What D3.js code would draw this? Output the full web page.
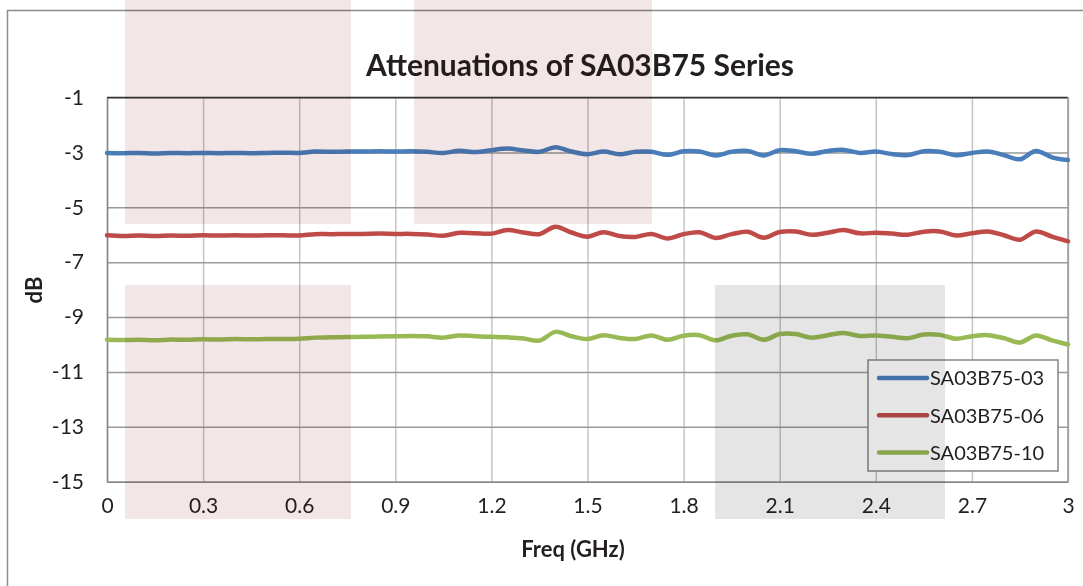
<!DOCTYPE html>
<html>
<head>
<meta charset="utf-8">
<script src="https://cdn.jsdelivr.net/npm/d3@7"></script>
<style>
  body { margin: 0; background: #fff; }
  svg { display: block; font-family: Lato, "Noto Sans", sans-serif; }
  .tick text { fill: #231f20; }
</style>
</head>
<body>
<div id="canvas"></div>
<script>
// frequency grid (GHz)
const freq = [0, 0.05, 0.1, 0.15, 0.2, 0.25, 0.3, 0.35, 0.4, 0.45, 0.5, 0.55, 0.6, 0.65, 0.7, 0.75,
  0.8, 0.85, 0.9, 0.95, 1.0, 1.05, 1.1, 1.15, 1.2, 1.25, 1.3, 1.35, 1.4, 1.45, 1.5, 1.55,
  1.6, 1.65, 1.7, 1.75, 1.8, 1.85, 1.9, 1.95, 2.0, 2.05, 2.1, 2.15, 2.2, 2.25, 2.3, 2.35,
  2.4, 2.45, 2.5, 2.55, 2.6, 2.65, 2.7, 2.75, 2.8, 2.85, 2.9, 2.95, 3.0];

const sa03 = [-3.02, -3.03, -3.02, -3.04, -3.02, -3.03, -3.02, -3.03, -3.02, -3.03, -3.02, -3.01, -3.02,
  -2.97, -2.98, -2.97, -2.97, -2.96, -2.97, -2.96, -2.98, -3.02, -2.94, -2.99, -2.92, -2.86, -2.93,
  -2.98, -2.81, -2.97, -3.07, -2.97, -3.07, -2.98, -2.98, -3.09, -2.96, -2.97, -3.11, -2.98, -2.95,
  -3.11, -2.92, -2.96, -3.05, -2.95, -2.91, -3.02, -2.97, -3.06, -3.10, -2.96, -2.98, -3.10, -3.02,
  -2.97, -3.10, -3.25, -2.95, -3.18, -3.28];

const sa06 = [-6.02, -6.05, -6.03, -6.05, -6.03, -6.04, -6.02, -6.03, -6.02, -6.03, -6.02, -6.02, -6.03,
  -5.98, -5.98, -5.97, -5.97, -5.96, -5.97, -5.97, -5.99, -6.04, -5.93, -5.95, -5.96, -5.83, -5.92,
  -5.98, -5.71, -5.92, -6.07, -5.91, -6.05, -6.08, -5.97, -6.14, -5.98, -5.91, -6.12, -5.98, -5.89,
  -6.11, -5.90, -5.88, -6.00, -5.93, -5.83, -5.95, -5.93, -5.96, -6.00, -5.89, -5.88, -6.03, -5.95,
  -5.88, -6.02, -6.18, -5.88, -6.07, -6.24];

const sa10 = [-9.83, -9.84, -9.83, -9.85, -9.82, -9.83, -9.81, -9.82, -9.80, -9.81, -9.80, -9.80, -9.79,
  -9.75, -9.74, -9.73, -9.72, -9.71, -9.70, -9.69, -9.70, -9.75, -9.67, -9.70, -9.72, -9.74, -9.78,
  -9.86, -9.54, -9.70, -9.80, -9.66, -9.76, -9.80, -9.67, -9.83, -9.68, -9.66, -9.85, -9.68, -9.63,
  -9.83, -9.62, -9.62, -9.75, -9.66, -9.58, -9.69, -9.67, -9.72, -9.77, -9.64, -9.65, -9.79, -9.70,
  -9.66, -9.77, -9.93, -9.67, -9.85, -10.00];

const seriesNames = ["SA03B75-03", "SA03B75-06", "SA03B75-10"];
const seriesColors = ["#4a7ebb", "#be4b48", "#98b954"];
const xTicks = [0, 0.3, 0.6, 0.9, 1.2, 1.5, 1.8, 2.1, 2.4, 2.7, 3];
const yTicks = [-1, -3, -5, -7, -9, -11, -13, -15];

const width = 1083;
const height = 586;
const margin = { top: 97.5, left: 107, bottom: 104.3, right: 15 };
const iwidth = width - margin.left - margin.right;
const iheight = height - margin.top - margin.bottom;

const svg = d3.select("#canvas").append("svg")
  .attr("width", width)
  .attr("height", height);

// chart frame
svg.append("rect")
  .attr("x", 7.5).attr("y", 10.5)
  .attr("width", 1100).attr("height", 600)
  .attr("fill", "#fff")
  .attr("stroke", "#8c8c8c").attr("stroke-width", 1.5);

const g = svg.append("g")
  .attr("transform", `translate(${margin.left},${margin.top})`);

const x = d3.scaleLinear().domain([0, 3]).range([0, iwidth]);
const y = d3.scaleLinear().domain([-15, -1]).range([iheight, 0]);

// vertical grid
g.append("g")
  .attr("transform", `translate(0,${iheight})`)
  .call(d3.axisBottom(x).tickValues(xTicks).tickSize(-iheight).tickFormat(""))
  .call(a => a.select(".domain").remove())
  .call(a => a.selectAll("line").attr("stroke", "#c4c4c4").attr("stroke-width", 1.5));

// horizontal grid
g.append("g")
  .call(d3.axisLeft(y).tickValues(yTicks).tickSize(-iwidth).tickFormat(""))
  .call(a => a.select(".domain").remove())
  .call(a => a.selectAll("line").attr("stroke", "#999").attr("stroke-width", 1.5));

// plot borders
g.append("line").attr("x1", 0).attr("x2", iwidth).attr("y1", 0).attr("y2", 0)
  .attr("stroke", "#333").attr("stroke-width", 1.5);
g.append("line").attr("x1", iwidth).attr("x2", iwidth).attr("y1", 0).attr("y2", iheight)
  .attr("stroke", "#999").attr("stroke-width", 1.5);

// axes with labels
g.append("g")
  .attr("transform", `translate(0,${iheight})`)
  .call(d3.axisBottom(x).tickValues(xTicks).tickSize(0).tickPadding(16).tickFormat(d => String(d)))
  .call(a => a.select(".domain").attr("stroke", "#868686").attr("stroke-width", 1.5))
  .call(a => a.selectAll("text").attr("font-size", 21).attr("font-family", "Lato"));

g.append("g")
  .call(d3.axisLeft(y).tickValues(yTicks).tickSize(0).tickPadding(23).tickFormat(d => String(d)))
  .call(a => a.select(".domain").attr("stroke", "#868686").attr("stroke-width", 1.5))
  .call(a => a.selectAll("text").attr("font-size", 21).attr("font-family", "Lato"));

// series
const series = [sa03, sa06, sa10];
const line = d3.line()
  .x((d, i) => x(freq[i]))
  .y(d => y(d))
  .curve(d3.curveCatmullRom);

g.selectAll(".series")
  .data(series)
  .enter()
  .append("path")
  .attr("class", "series")
  .attr("d", d => line(d))
  .attr("fill", "none")
  .attr("stroke", (d, i) => seriesColors[i])
  .attr("stroke-width", 4.5)
  .attr("stroke-linejoin", "round")
  .attr("stroke-linecap", "round");

// title
svg.append("text")
  .attr("x", 580).attr("y", 76)
  .attr("text-anchor", "middle")
  .attr("font-size", 30).attr("font-weight", "bold")
  .attr("fill", "#231f20")
  .text("Attenuations of SA03B75 Series");

// axis titles
svg.append("text")
  .attr("x", 573).attr("y", 557)
  .attr("text-anchor", "middle")
  .attr("font-size", 22).attr("font-weight", "bold")
  .attr("fill", "#231f20")
  .text("Freq (GHz)");

svg.append("text")
  .attr("transform", "translate(42,290) rotate(-90)")
  .attr("text-anchor", "middle")
  .attr("font-size", 22).attr("font-weight", "bold")
  .attr("fill", "#231f20")
  .text("dB");

// legend
const legend = svg.append("g").attr("transform", "translate(868,360)");
legend.append("rect")
  .attr("width", 190).attr("height", 111)
  .attr("fill", "#fff")
  .attr("stroke", "#868686").attr("stroke-width", 1.5);

const items = legend.selectAll(".item")
  .data(seriesNames)
  .enter()
  .append("g")
  .attr("transform", (d, i) => `translate(0,${18 + i * 37.3})`);

items.append("line")
  .attr("x1", 11).attr("x2", 59)
  .attr("stroke", (d, i) => seriesColors[i])
  .attr("stroke-width", 4.5)
  .attr("stroke-linecap", "round");

items.append("text")
  .attr("x", 62).attr("dy", "0.36em")
  .attr("font-size", 20)
  .attr("fill", "#231f20")
  .text(d => d);

// shaded overlay regions
const shades = [
  { x0: 125, x1: 351, y0: 0, y1: 224, c: "#f3e6e7" },
  { x0: 414, x1: 652, y0: 0, y1: 224, c: "#f3e6e7" },
  { x0: 125, x1: 351, y0: 285, y1: 519, c: "#f3e6e7" },
  { x0: 715, x1: 945, y0: 285, y1: 519, c: "#e5e5e5" }
];
svg.selectAll(".shade")
  .data(shades)
  .enter()
  .append("rect")
  .attr("class", "shade")
  .attr("x", d => d.x0).attr("y", d => d.y0)
  .attr("width", d => d.x1 - d.x0).attr("height", d => d.y1 - d.y0)
  .attr("fill", d => d.c)
  .style("mix-blend-mode", "multiply");
</script>
</body>
</html>
